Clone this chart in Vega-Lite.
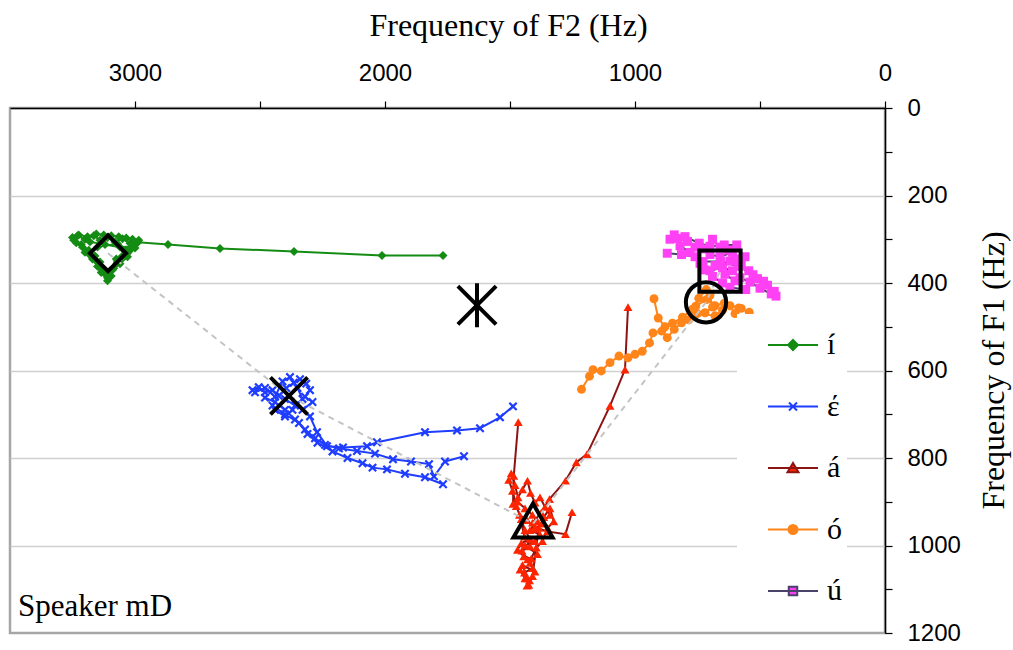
{
"$schema": "https://vega.github.io/schema/vega-lite/v6.json",
"width": 875, "height": 525,
"autosize": {"type": "none"},
"padding": {"left": 10, "top": 108, "right": 128, "bottom": 17},
"background": "white",
"config": {"view": {"stroke": "#a6a6a6", "strokeWidth": 2.5}, "font": "Liberation Serif"},
"datasets": {
"pts": [
{"v":"í","t":1,"s":1,"f2":3230,"f1":292},{"v":"í","t":1,"s":2,"f2":3200,"f1":300},{"v":"í","t":1,"s":3,"f2":3165,"f1":292},{"v":"í","t":1,"s":4,"f2":3140,"f1":302},{"v":"í","t":1,"s":5,"f2":3110,"f1":296},{"v":"í","t":1,"s":6,"f2":3080,"f1":306},{"v":"í","t":1,"s":7,"f2":3050,"f1":299},{"v":"í","t":1,"s":8,"f2":3020,"f1":309},{"v":"í","t":1,"s":9,"f2":2988,"f1":307},{"v":"í","t":1,"s":10,"f2":2868,"f1":312},{"v":"í","t":1,"s":11,"f2":2660,"f1":321},{"v":"í","t":1,"s":12,"f2":2364,"f1":328},{"v":"í","t":1,"s":13,"f2":2012,"f1":337},{"v":"í","t":1,"s":14,"f2":1768,"f1":337},
{"v":"í","t":2,"s":1,"f2":3245,"f1":302},{"v":"í","t":2,"s":2,"f2":3215,"f1":312},{"v":"í","t":2,"s":3,"f2":3185,"f1":325},{"v":"í","t":2,"s":4,"f2":3160,"f1":338},{"v":"í","t":2,"s":5,"f2":3140,"f1":352},{"v":"í","t":2,"s":6,"f2":3125,"f1":368},{"v":"í","t":2,"s":7,"f2":3115,"f1":382},{"v":"í","t":2,"s":8,"f2":3110,"f1":395},{"v":"í","t":2,"s":9,"f2":3095,"f1":384},{"v":"í","t":2,"s":10,"f2":3085,"f1":366},{"v":"í","t":2,"s":11,"f2":3070,"f1":350},{"v":"í","t":2,"s":12,"f2":3050,"f1":338},{"v":"í","t":2,"s":13,"f2":3025,"f1":324},{"v":"í","t":2,"s":14,"f2":3005,"f1":316},{"v":"í","t":2,"s":15,"f2":3060,"f1":318},{"v":"í","t":2,"s":16,"f2":3120,"f1":312},{"v":"í","t":2,"s":17,"f2":3180,"f1":306},
{"v":"í","t":3,"s":1,"f2":3200,"f1":330},{"v":"í","t":3,"s":2,"f2":3170,"f1":345},{"v":"í","t":3,"s":3,"f2":3150,"f1":362},{"v":"í","t":3,"s":4,"f2":3135,"f1":376},{"v":"í","t":3,"s":5,"f2":3100,"f1":372},{"v":"í","t":3,"s":6,"f2":3075,"f1":345},{"v":"í","t":3,"s":7,"f2":3040,"f1":328},{"v":"í","t":3,"s":8,"f2":3070,"f1":310},{"v":"í","t":3,"s":9,"f2":3150,"f1":318},
{"v":"í","t":17,"s":1,"f2":3250,"f1":296},{"v":"í","t":17,"s":2,"f2":3225,"f1":290},{"v":"í","t":17,"s":3,"f2":3190,"f1":294},{"v":"í","t":17,"s":4,"f2":3155,"f1":288},{"v":"í","t":17,"s":5,"f2":3125,"f1":290},{"v":"í","t":17,"s":6,"f2":3095,"f1":292},{"v":"í","t":17,"s":7,"f2":3065,"f1":294},{"v":"í","t":17,"s":8,"f2":3035,"f1":297},{"v":"í","t":17,"s":9,"f2":3010,"f1":300},{"v":"í","t":17,"s":10,"f2":2985,"f1":302},{"v":"í","t":17,"s":11,"f2":3000,"f1":320},{"v":"í","t":17,"s":12,"f2":3030,"f1":340},{"v":"í","t":17,"s":13,"f2":3060,"f1":356},{"v":"í","t":17,"s":14,"f2":3090,"f1":370},{"v":"í","t":17,"s":15,"f2":3110,"f1":388},{"v":"í","t":17,"s":16,"f2":3130,"f1":372},{"v":"í","t":17,"s":17,"f2":3150,"f1":352},{"v":"í","t":17,"s":18,"f2":3180,"f1":336},{"v":"í","t":17,"s":19,"f2":3210,"f1":318},{"v":"í","t":17,"s":20,"f2":3235,"f1":308},
{"v":"έ","t":4,"s":1,"f2":2530,"f1":645},{"v":"έ","t":4,"s":2,"f2":2505,"f1":638},{"v":"έ","t":4,"s":3,"f2":2480,"f1":650},{"v":"έ","t":4,"s":4,"f2":2450,"f1":645},{"v":"έ","t":4,"s":5,"f2":2425,"f1":658},{"v":"έ","t":4,"s":6,"f2":2395,"f1":640},{"v":"έ","t":4,"s":7,"f2":2365,"f1":628},{"v":"έ","t":4,"s":8,"f2":2340,"f1":620},{"v":"έ","t":4,"s":9,"f2":2315,"f1":630},{"v":"έ","t":4,"s":10,"f2":2300,"f1":645},{"v":"έ","t":4,"s":11,"f2":2320,"f1":660},{"v":"έ","t":4,"s":12,"f2":2290,"f1":672},{"v":"έ","t":4,"s":13,"f2":2330,"f1":690},{"v":"έ","t":4,"s":14,"f2":2300,"f1":705},{"v":"έ","t":4,"s":15,"f2":2272,"f1":741},{"v":"έ","t":4,"s":16,"f2":2232,"f1":773},{"v":"έ","t":4,"s":17,"f2":2168,"f1":776},{"v":"έ","t":4,"s":18,"f2":2072,"f1":773},{"v":"έ","t":4,"s":19,"f2":2032,"f1":764},{"v":"έ","t":4,"s":20,"f2":1840,"f1":741},{"v":"έ","t":4,"s":21,"f2":1712,"f1":737},{"v":"έ","t":4,"s":22,"f2":1620,"f1":732},{"v":"έ","t":4,"s":23,"f2":1540,"f1":707},{"v":"έ","t":4,"s":24,"f2":1488,"f1":682},
{"v":"έ","t":5,"s":1,"f2":2480,"f1":662},{"v":"έ","t":5,"s":2,"f2":2440,"f1":672},{"v":"έ","t":5,"s":3,"f2":2400,"f1":690},{"v":"έ","t":5,"s":4,"f2":2360,"f1":712},{"v":"έ","t":5,"s":5,"f2":2320,"f1":735},{"v":"έ","t":5,"s":6,"f2":2280,"f1":755},{"v":"έ","t":5,"s":7,"f2":2240,"f1":770},{"v":"έ","t":5,"s":8,"f2":2184,"f1":778},{"v":"έ","t":5,"s":9,"f2":2112,"f1":784},{"v":"έ","t":5,"s":10,"f2":2040,"f1":790},{"v":"έ","t":5,"s":11,"f2":1968,"f1":803},{"v":"έ","t":5,"s":12,"f2":1896,"f1":808},{"v":"έ","t":5,"s":13,"f2":1824,"f1":814},{"v":"έ","t":5,"s":14,"f2":1804,"f1":842},{"v":"έ","t":5,"s":15,"f2":1760,"f1":808},{"v":"έ","t":5,"s":16,"f2":1684,"f1":796},
{"v":"έ","t":6,"s":1,"f2":2450,"f1":680},{"v":"έ","t":6,"s":2,"f2":2400,"f1":700},{"v":"έ","t":6,"s":3,"f2":2344,"f1":720},{"v":"έ","t":6,"s":4,"f2":2310,"f1":745},{"v":"έ","t":6,"s":5,"f2":2270,"f1":765},{"v":"έ","t":6,"s":6,"f2":2210,"f1":785},{"v":"έ","t":6,"s":7,"f2":2150,"f1":800},{"v":"έ","t":6,"s":8,"f2":2090,"f1":812},{"v":"έ","t":6,"s":9,"f2":2050,"f1":822},{"v":"έ","t":6,"s":10,"f2":1992,"f1":826},{"v":"έ","t":6,"s":11,"f2":1920,"f1":836},{"v":"έ","t":6,"s":12,"f2":1840,"f1":844},{"v":"έ","t":6,"s":13,"f2":1768,"f1":860},
{"v":"έ","t":7,"s":1,"f2":2520,"f1":650},{"v":"έ","t":7,"s":2,"f2":2480,"f1":640},{"v":"έ","t":7,"s":3,"f2":2440,"f1":660},{"v":"έ","t":7,"s":4,"f2":2410,"f1":625},{"v":"έ","t":7,"s":5,"f2":2380,"f1":615},{"v":"έ","t":7,"s":6,"f2":2350,"f1":640},{"v":"έ","t":7,"s":7,"f2":2330,"f1":665},{"v":"έ","t":7,"s":8,"f2":2360,"f1":680},{"v":"έ","t":7,"s":9,"f2":2400,"f1":665},{"v":"έ","t":7,"s":10,"f2":2440,"f1":690},{"v":"έ","t":7,"s":11,"f2":2400,"f1":705},{"v":"έ","t":7,"s":12,"f2":2370,"f1":690},
{"v":"á","t":8,"s":1,"f2":1495,"f1":835},{"v":"á","t":8,"s":2,"f2":1480,"f1":862},{"v":"á","t":8,"s":3,"f2":1468,"f1":890},{"v":"á","t":8,"s":4,"f2":1450,"f1":872},{"v":"á","t":8,"s":5,"f2":1430,"f1":852},{"v":"á","t":8,"s":6,"f2":1418,"f1":880},{"v":"á","t":8,"s":7,"f2":1400,"f1":902},{"v":"á","t":8,"s":8,"f2":1380,"f1":890},{"v":"á","t":8,"s":9,"f2":1360,"f1":912},{"v":"á","t":8,"s":10,"f2":1340,"f1":930},{"v":"á","t":8,"s":11,"f2":1372,"f1":950},{"v":"á","t":8,"s":12,"f2":1400,"f1":962},{"v":"á","t":8,"s":13,"f2":1432,"f1":942},{"v":"á","t":8,"s":14,"f2":1462,"f1":930},{"v":"á","t":8,"s":15,"f2":1442,"f1":980},{"v":"á","t":8,"s":16,"f2":1420,"f1":1002},{"v":"á","t":8,"s":17,"f2":1452,"f1":1012},{"v":"á","t":8,"s":18,"f2":1430,"f1":1032},{"v":"á","t":8,"s":19,"f2":1410,"f1":1052},{"v":"á","t":8,"s":20,"f2":1442,"f1":1062},{"v":"á","t":8,"s":21,"f2":1422,"f1":1080},{"v":"á","t":8,"s":22,"f2":1432,"f1":1092},
{"v":"á","t":9,"s":1,"f2":1410,"f1":948},{"v":"á","t":9,"s":2,"f2":1375,"f1":925},{"v":"á","t":9,"s":3,"f2":1342,"f1":894},{"v":"á","t":9,"s":4,"f2":1278,"f1":852},{"v":"á","t":9,"s":5,"f2":1235,"f1":810},{"v":"á","t":9,"s":6,"f2":1192,"f1":791},{"v":"á","t":9,"s":7,"f2":1100,"f1":681},{"v":"á","t":9,"s":8,"f2":1040,"f1":598},{"v":"á","t":9,"s":9,"f2":1028,"f1":455},
{"v":"á","t":10,"s":1,"f2":1488,"f1":905},{"v":"á","t":10,"s":2,"f2":1485,"f1":841},{"v":"á","t":10,"s":3,"f2":1467,"f1":718},
{"v":"á","t":11,"s":1,"f2":1400,"f1":958},{"v":"á","t":11,"s":2,"f2":1350,"f1":968},{"v":"á","t":11,"s":3,"f2":1278,"f1":974},{"v":"á","t":11,"s":4,"f2":1252,"f1":924},
{"v":"á","t":12,"s":1,"f2":1470,"f1":900},{"v":"á","t":12,"s":2,"f2":1440,"f1":915},{"v":"á","t":12,"s":3,"f2":1410,"f1":930},{"v":"á","t":12,"s":4,"f2":1390,"f1":945},{"v":"á","t":12,"s":5,"f2":1420,"f1":965},{"v":"á","t":12,"s":6,"f2":1380,"f1":975},{"v":"á","t":12,"s":7,"f2":1400,"f1":990},{"v":"á","t":12,"s":8,"f2":1440,"f1":1000},{"v":"á","t":12,"s":9,"f2":1390,"f1":1020},{"v":"á","t":12,"s":10,"f2":1420,"f1":1040},{"v":"á","t":12,"s":11,"f2":1400,"f1":1060},{"v":"á","t":12,"s":12,"f2":1450,"f1":1045},{"v":"á","t":12,"s":13,"f2":1430,"f1":1075},
{"v":"á","t":18,"s":1,"f2":1505,"f1":850},{"v":"á","t":18,"s":2,"f2":1490,"f1":875},{"v":"á","t":18,"s":3,"f2":1475,"f1":910},{"v":"á","t":18,"s":4,"f2":1455,"f1":940},{"v":"á","t":18,"s":5,"f2":1440,"f1":965},{"v":"á","t":18,"s":6,"f2":1420,"f1":985},{"v":"á","t":18,"s":7,"f2":1455,"f1":995},{"v":"á","t":18,"s":8,"f2":1470,"f1":1010},{"v":"á","t":18,"s":9,"f2":1445,"f1":1025},{"v":"á","t":18,"s":10,"f2":1415,"f1":1030},{"v":"á","t":18,"s":11,"f2":1395,"f1":1005},{"v":"á","t":18,"s":12,"f2":1370,"f1":990},{"v":"á","t":18,"s":13,"f2":1350,"f1":960},{"v":"á","t":18,"s":14,"f2":1325,"f1":945},{"v":"á","t":18,"s":15,"f2":1340,"f1":915},{"v":"á","t":18,"s":16,"f2":1365,"f1":935},{"v":"á","t":18,"s":17,"f2":1385,"f1":960},{"v":"á","t":18,"s":18,"f2":1410,"f1":1070},{"v":"á","t":18,"s":19,"f2":1425,"f1":1090},{"v":"á","t":18,"s":20,"f2":1440,"f1":1075},{"v":"á","t":18,"s":21,"f2":1460,"f1":1055},
{"v":"ó","t":13,"s":1,"f2":543,"f1":467},{"v":"ó","t":13,"s":2,"f2":585,"f1":457},{"v":"ó","t":13,"s":3,"f2":643,"f1":446},{"v":"ó","t":13,"s":4,"f2":680,"f1":452},{"v":"ó","t":13,"s":5,"f2":714,"f1":438},{"v":"ó","t":13,"s":6,"f2":757,"f1":453},{"v":"ó","t":13,"s":7,"f2":785,"f1":484},{"v":"ó","t":13,"s":8,"f2":814,"f1":491},{"v":"ó","t":13,"s":9,"f2":843,"f1":506},{"v":"ó","t":13,"s":10,"f2":871,"f1":525},{"v":"ó","t":13,"s":11,"f2":893,"f1":510},{"v":"ó","t":13,"s":12,"f2":928,"f1":514},{"v":"ó","t":13,"s":13,"f2":942,"f1":537},{"v":"ó","t":13,"s":14,"f2":971,"f1":556},{"v":"ó","t":13,"s":15,"f2":1000,"f1":563},{"v":"ó","t":13,"s":16,"f2":1028,"f1":571},{"v":"ó","t":13,"s":17,"f2":1064,"f1":567},{"v":"ó","t":13,"s":18,"f2":1100,"f1":582},{"v":"ó","t":13,"s":19,"f2":1135,"f1":601},{"v":"ó","t":13,"s":20,"f2":1168,"f1":598},{"v":"ó","t":13,"s":21,"f2":1182,"f1":613},{"v":"ó","t":13,"s":22,"f2":1214,"f1":643},
{"v":"ó","t":14,"s":1,"f2":924,"f1":436},{"v":"ó","t":14,"s":2,"f2":907,"f1":480},{"v":"ó","t":14,"s":3,"f2":880,"f1":500},{"v":"ó","t":14,"s":4,"f2":850,"f1":492},{"v":"ó","t":14,"s":5,"f2":810,"f1":478},{"v":"ó","t":14,"s":6,"f2":770,"f1":460},{"v":"ó","t":14,"s":7,"f2":745,"f1":435},{"v":"ó","t":14,"s":8,"f2":715,"f1":415},{"v":"ó","t":14,"s":9,"f2":700,"f1":428},{"v":"ó","t":14,"s":10,"f2":690,"f1":455},{"v":"ó","t":14,"s":11,"f2":720,"f1":468},{"v":"ó","t":14,"s":12,"f2":750,"f1":470},{"v":"ó","t":14,"s":13,"f2":680,"f1":475},{"v":"ó","t":14,"s":14,"f2":650,"f1":462},{"v":"ó","t":14,"s":15,"f2":620,"f1":452},{"v":"ó","t":14,"s":16,"f2":600,"f1":470},{"v":"ó","t":14,"s":17,"f2":575,"f1":458},
{"v":"ú","t":15,"s":1,"f2":843,"f1":290},{"v":"ú","t":15,"s":2,"f2":800,"f1":294},{"v":"ú","t":15,"s":3,"f2":743,"f1":309},{"v":"ú","t":15,"s":4,"f2":700,"f1":316},{"v":"ú","t":15,"s":5,"f2":643,"f1":313},{"v":"ú","t":15,"s":6,"f2":593,"f1":313},{"v":"ú","t":15,"s":7,"f2":610,"f1":330},{"v":"ú","t":15,"s":8,"f2":660,"f1":340},{"v":"ú","t":15,"s":9,"f2":700,"f1":335},{"v":"ú","t":15,"s":10,"f2":728,"f1":351},{"v":"ú","t":15,"s":11,"f2":657,"f1":351},{"v":"ú","t":15,"s":12,"f2":586,"f1":362},{"v":"ú","t":15,"s":13,"f2":528,"f1":381},{"v":"ú","t":15,"s":14,"f2":486,"f1":396},{"v":"ú","t":15,"s":15,"f2":443,"f1":419},{"v":"ú","t":15,"s":16,"f2":436,"f1":430},
{"v":"ú","t":16,"s":1,"f2":871,"f1":332},{"v":"ú","t":16,"s":2,"f2":814,"f1":335},{"v":"ú","t":16,"s":3,"f2":760,"f1":340},{"v":"ú","t":16,"s":4,"f2":720,"f1":370},{"v":"ú","t":16,"s":5,"f2":690,"f1":385},{"v":"ú","t":16,"s":6,"f2":650,"f1":400},{"v":"ú","t":16,"s":7,"f2":620,"f1":410},{"v":"ú","t":16,"s":8,"f2":557,"f1":415},{"v":"ú","t":16,"s":9,"f2":600,"f1":395},{"v":"ú","t":16,"s":10,"f2":640,"f1":380},{"v":"ú","t":16,"s":11,"f2":680,"f1":360},{"v":"ú","t":16,"s":12,"f2":620,"f1":350},{"v":"ú","t":16,"s":13,"f2":560,"f1":340},
{"v":"ú","t":19,"s":1,"f2":860,"f1":300},{"v":"ú","t":19,"s":2,"f2":830,"f1":298},{"v":"ú","t":19,"s":3,"f2":790,"f1":305},{"v":"ú","t":19,"s":4,"f2":760,"f1":318},{"v":"ú","t":19,"s":5,"f2":730,"f1":322},{"v":"ú","t":19,"s":6,"f2":690,"f1":300},{"v":"ú","t":19,"s":7,"f2":660,"f1":318},{"v":"ú","t":19,"s":8,"f2":625,"f1":325},{"v":"ú","t":19,"s":9,"f2":600,"f1":345},{"v":"ú","t":19,"s":10,"f2":575,"f1":360},{"v":"ú","t":19,"s":11,"f2":545,"f1":372},{"v":"ú","t":19,"s":12,"f2":510,"f1":390},{"v":"ú","t":19,"s":13,"f2":470,"f1":405},{"v":"ú","t":19,"s":14,"f2":455,"f1":425},{"v":"ú","t":19,"s":15,"f2":500,"f1":412},{"v":"ú","t":19,"s":16,"f2":540,"f1":398},{"v":"ú","t":19,"s":17,"f2":580,"f1":388},{"v":"ú","t":19,"s":18,"f2":610,"f1":372},{"v":"ú","t":19,"s":19,"f2":650,"f1":365},{"v":"ú","t":19,"s":20,"f2":700,"f1":372},{"v":"ú","t":19,"s":21,"f2":740,"f1":355},{"v":"ú","t":19,"s":22,"f2":780,"f1":330},{"v":"ú","t":19,"s":23,"f2":820,"f1":315}
],
"poly": [
{"s":1,"f2":3108,"f1":332},{"s":2,"f2":2384,"f1":658},{"s":3,"f2":1408,"f1":950},{"s":4,"f2":716,"f1":444},{"s":5,"f2":660,"f1":373}
],
"refs": [
{"k":"i","f2":3108,"f1":332},{"k":"e","f2":2384,"f1":658},{"k":"c","f2":1632,"f1":451},{"k":"a","f2":1408,"f1":943},{"k":"o","f2":716,"f1":444},{"k":"u","f2":660,"f1":373}
]
},
"layer": [
{
"data": {"name": "pts"},
"mark": {"type": "line", "strokeWidth": 2},
"encoding": {
"x": {"field": "f2", "type": "quantitative", "scale": {"domain": [0, 3500], "reverse": true, "nice": false, "zero": false},
 "axis": {"orient": "top", "title": "Frequency of F2 (Hz)", "values": [0,500,1000,1500,2000,2500,3000], "format": "d",
  "labelExpr": "datum.value % 1000 === 0 ? datum.label : ''", "labelFont": "Liberation Sans", "labelFontSize": 24, "labelColor": "black",
  "labelPadding": 16, "labelFlush": false, "labelOverlap": false, "tickSize": 7, "tickColor": "black", "tickWidth": 1.2,
  "domainColor": "black", "domainWidth": 1.5, "grid": false, "titleFont": "Liberation Serif", "titleFontSize": 32, "titleFontWeight": "normal",
  "titleColor": "black", "titleX": 498, "titleY": -73, "titleBaseline": "alphabetic", "titleAlign": "center"}},
"y": {"field": "f1", "type": "quantitative", "scale": {"domain": [0, 1200], "reverse": true, "nice": false, "zero": false},
 "axis": {"orient": "right", "title": "Frequency of F1 (Hz)", "values": [0,100,200,300,400,500,600,700,800,900,1000,1100,1200], "format": "d",
  "labelExpr": "datum.value % 200 === 0 ? datum.label : ''", "labelFont": "Liberation Sans", "labelFontSize": 24, "labelColor": "black",
  "labelPadding": 15, "labelFlush": false, "labelOverlap": false, "labelBaseline": "middle", "tickSize": 7, "tickColor": "black", "tickWidth": 1.2,
  "domainColor": "black", "domainWidth": 1.5, "grid": true,
  "gridColor": {"condition": {"test": "datum.value % 200 === 0 && datum.value > 0 && datum.value < 1200", "value": "#d0d0d0"}, "value": "transparent"},
  "gridWidth": 1.5, "titleFont": "Liberation Serif", "titleFontSize": 32, "titleFontWeight": "normal", "titleColor": "black",
  "titleAngle": -90, "titleX": 118, "titleY": 262, "titleBaseline": "alphabetic", "titleAlign": "center"}},
"stroke": {"field": "v", "type": "nominal",
 "scale": {"domain": ["í","έ","á","ó","ú"], "range": ["#148c14","#1f3dff","#8c1414","#ff8419","#4a4268"]},
 "legend": {"title": null, "orient": "none", "legendX": 727, "legendY": 206, "padding": 5, "fillColor": "white", "strokeColor": null,
  "symbolSize": 2500, "symbolStrokeWidth": 2, "symbolOffset": 25, "labelFont": "Liberation Serif", "labelFontSize": 30,
  "labelColor": "black", "labelOffset": 8, "labelLimit": 0, "rowPadding": 20.5,
  "encode": {"symbols": {"update": {
   "shape": {"signal": "datum.value === 'í' ? 'M-1,0H1M0,-0.2L0.2,0L0,0.2L-0.2,0Z' : datum.value === 'έ' ? 'M-1,0H1M-0.16,-0.16L0.16,0.16M-0.16,0.16L0.16,-0.16' : datum.value === 'á' ? 'M-1,0H1M0,-0.2L0.22,0.17L-0.22,0.17Z' : datum.value === 'ó' ? 'M-1,0H1M0.18,0A0.18,0.18,0,1,1,-0.18,0A0.18,0.18,0,1,1,0.18,0Z' : 'M-1,0H1M-0.17,-0.17H0.17V0.17H-0.17Z'"},
   "fill": {"signal": "datum.value === 'í' ? '#148c14' : datum.value === 'έ' ? 'transparent' : datum.value === 'á' ? '#ff2400' : datum.value === 'ó' ? '#ff8419' : '#ff40f4'"}
  }}}}},
"detail": {"field": "t", "type": "nominal"},
"order": {"field": "s", "type": "quantitative"}
}
},
{
"data": {"name": "pts"},
"mark": {"type": "point", "filled": true, "size": 80, "opacity": 1},
"encoding": {
"x": {"field": "f2", "type": "quantitative", "scale": {"domain": [0, 3500], "reverse": true, "nice": false, "zero": false}},
"y": {"field": "f1", "type": "quantitative", "scale": {"domain": [0, 1200], "reverse": true, "nice": false, "zero": false}},
"color": {"field": "v", "type": "nominal", "scale": {"domain": ["í","έ","á","ó","ú"], "range": ["#148c14","#1f3dff","#ff2400","#ff8419","#ff40f4"]}, "legend": null},
"shape": {"field": "v", "type": "nominal", "scale": {"domain": ["í","έ","á","ó","ú"], "range": ["diamond","M-1,-0.65L-0.65,-1L0,-0.35L0.65,-1L1,-0.65L0.35,0L1,0.65L0.65,1L0,0.35L-0.65,1L-1,0.65L-0.35,0Z","triangle-up","circle","square"]}, "legend": null}
}
},
{
"data": {"name": "poly"},
"mark": {"type": "line", "stroke": "#c4c4c4", "strokeWidth": 2, "strokeDash": [6, 5]},
"encoding": {
"x": {"field": "f2", "type": "quantitative", "scale": {"domain": [0, 3500], "reverse": true, "nice": false, "zero": false}},
"y": {"field": "f1", "type": "quantitative", "scale": {"domain": [0, 1200], "reverse": true, "nice": false, "zero": false}},
"order": {"field": "s", "type": "quantitative"}
}
},
{
"data": {"name": "refs"},
"mark": {"type": "point", "filled": false, "stroke": "black", "strokeWidth": 4, "opacity": 1},
"encoding": {
"x": {"field": "f2", "type": "quantitative", "scale": {"domain": [0, 3500], "reverse": true, "nice": false, "zero": false}},
"y": {"field": "f1", "type": "quantitative", "scale": {"domain": [0, 1200], "reverse": true, "nice": false, "zero": false}},
"shape": {"field": "k", "type": "nominal", "scale": {"domain": ["i","e","c","a","o","u"], "range": ["diamond","M-1,-1L1,1M-1,1L1,-1","M-1,-1L1,1M-1,1L1,-1M0,-1.15V1.15","triangle-up","circle","square"]}, "legend": null},
"size": {"field": "k", "type": "ordinal", "scale": {"domain": ["i","e","c","a","o","u"], "range": [1300,1700,1500,1600,1200,1400]}, "legend": null}
}
},
{
"data": {"values": [{}]},
"mark": {"type": "text", "text": "Speaker mD", "font": "Liberation Serif", "fontSize": 31, "align": "left", "baseline": "alphabetic", "color": "black"},
"encoding": {
"x": {"datum": 3468, "type": "quantitative"},
"y": {"datum": 1161, "type": "quantitative"}
}
}
],
"resolve": {"scale": {"shape": "independent", "size": "independent"}}
}
